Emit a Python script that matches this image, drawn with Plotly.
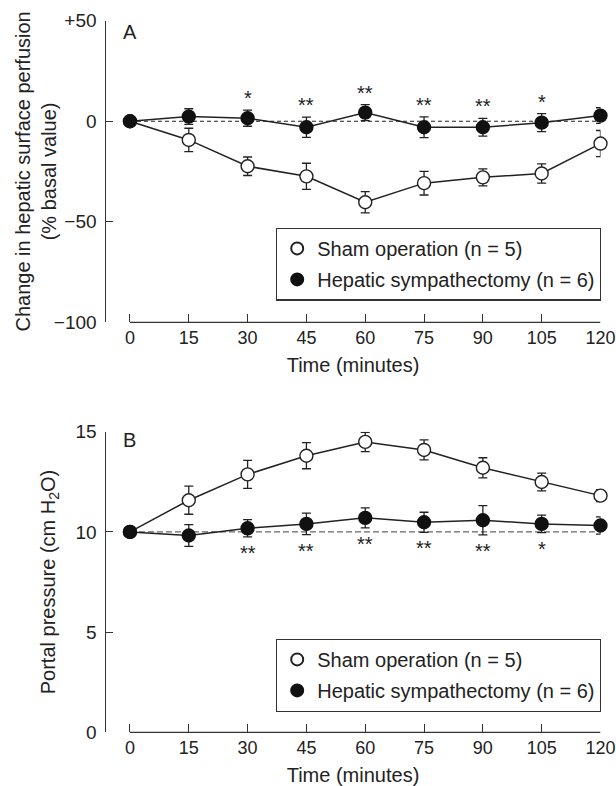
import plotly.graph_objects as go

# ---------------- data ----------------
times = [0, 15, 30, 45, 60, 75, 90, 105, 120]

# Panel A: change in hepatic surface perfusion (% basal value)
sham_A = [0, -9.3, -22.4, -27.4, -40.3, -30.8, -27.9, -26.0, -11.1]
sham_A_err = [0, 5.8, 4.6, 6.5, 5.3, 5.9, 4.2, 4.8, 6.5]
symp_A = [0, 2.3, 1.5, -3.0, 4.3, -3.0, -3.0, -0.7, 2.8]
symp_A_err = [0, 3.9, 4.0, 5.0, 4.0, 5.2, 4.4, 4.5, 3.9]
stars_A = ["", "", "*", "**", "**", "**", "**", "*", ""]
baseline_A = 0

# Panel B: portal pressure (cm H2O)
sham_B = [10, 11.58, 12.87, 13.80, 14.49, 14.09, 13.20, 12.49, 11.81]
sham_B_err = [0, 0.70, 0.70, 0.65, 0.48, 0.50, 0.50, 0.44, 0.30]
symp_B = [10, 9.82, 10.18, 10.40, 10.70, 10.48, 10.58, 10.40, 10.32]
symp_B_err = [0, 0.54, 0.43, 0.54, 0.50, 0.50, 0.73, 0.44, 0.43]
stars_B = ["", "", "**", "**", "**", "**", "**", "*", ""]
baseline_B = 10

yticks_A = [50, 0, -50, -100]
yticktext_A = ["+50", "0", "\u221250", "\u2212100"]
yticks_B = [0, 5, 10, 15]

sham_name = "Sham operation (n = 5)"
symp_name = "Hepatic sympathectomy (n = 6)"

# ---------------- style ----------------
INK = "#222222"
AXC = "#333333"
FONT = "Liberation Sans, Arial, sans-serif"
W, H = 616, 786

fig = go.Figure()


def add_panel(xa, ya, sham, sham_err, symp, symp_err, legend):
    # connecting lines (drawn first, beneath markers)
    for vals in (sham, symp):
        fig.add_trace(go.Scatter(
            x=times, y=vals, mode="lines", showlegend=False, hoverinfo="skip",
            xaxis=xa, yaxis=ya, line=dict(color=INK, width=1.5),
            cliponaxis=False,
        ))
    # markers with error bars (legend entries)
    fig.add_trace(go.Scatter(
        x=times, y=sham, mode="markers", name=sham_name,
        xaxis=xa, yaxis=ya, legend=legend, legendgroup=legend + "sham",
        marker=dict(symbol="circle", size=13, color="white",
                    line=dict(color=INK, width=1.4)),
        error_y=dict(type="data", array=sham_err, visible=True,
                     color=INK, thickness=1.3, width=4.5),
        cliponaxis=False,
    ))
    fig.add_trace(go.Scatter(
        x=times, y=symp, mode="markers", name=symp_name,
        xaxis=xa, yaxis=ya, legend=legend, legendgroup=legend + "symp",
        marker=dict(symbol="circle", size=13, color="#111111",
                    line=dict(color="#111111", width=1.4)),
        error_y=dict(type="data", array=symp_err, visible=True,
                     color=INK, thickness=1.3, width=4.5),
        cliponaxis=False,
    ))


add_panel("x", "y", sham_A, sham_A_err, symp_A, symp_A_err, "legend")
add_panel("x2", "y2", sham_B, sham_B_err, symp_B, symp_B_err, "legend2")

# dashed baselines
fig.add_shape(type="line", xref="x", yref="y", x0=times[0], x1=times[-1],
              y0=baseline_A, y1=baseline_A, layer="below",
              line=dict(color="#222222", width=1.1, dash="4px,3px"))
fig.add_shape(type="line", xref="x2", yref="y2", x0=times[0], x1=times[-1],
              y0=baseline_B, y1=baseline_B, layer="below",
              line=dict(color="#666666", width=1.3, dash="6px,3px"))

# x-axis lines spanning only the time range (offset axis look)
fig.add_shape(type="line", xref="x", yref="y domain", x0=times[0], x1=times[-1],
              y0=0, y1=0, line=dict(color=AXC, width=1.2))
fig.add_shape(type="line", xref="x2", yref="y2 domain", x0=times[0], x1=times[-1],
              y0=0, y1=0, line=dict(color=AXC, width=1.2))

# significance asterisks
for t, s, v, e in zip(times, stars_A, symp_A, symp_A_err):
    if s:
        fig.add_annotation(x=t, y=v + e, xref="x", yref="y", text=s,
                           showarrow=False, yanchor="middle", yshift=12,
                           font=dict(size=20, color=INK, family=FONT))
for t, s, v, e in zip(times, stars_B, symp_B, symp_B_err):
    if s:
        fig.add_annotation(x=t, y=v - e, xref="x2", yref="y2", text=s,
                           showarrow=False, yanchor="middle", yshift=-16,
                           font=dict(size=20, color=INK, family=FONT))

# panel letters
fig.add_annotation(x=times[0], y=0.963, xref="x", yref="y domain", text="A",
                   showarrow=False, xanchor="center", yanchor="middle",
                   font=dict(size=20, color=INK, family=FONT))
fig.add_annotation(x=times[0], y=0.972, xref="x2", yref="y2 domain", text="B",
                   showarrow=False, xanchor="center", yanchor="middle",
                   font=dict(size=20, color=INK, family=FONT))

# two-line y-axis title of panel A
fig.add_annotation(x=35 / W, y=0.5, xref="paper", yref="y domain",
                   text="Change in hepatic surface perfusion<br>(% basal value)",
                   textangle=-90, showarrow=False, xanchor="center", yanchor="middle",
                   font=dict(size=20, color=INK, family=FONT))

xdom = [105.5 / W, 600.5 / W]
common_x = dict(range=[-6.24, 120], tickvals=times, ticks="inside", ticklen=8,
                tickwidth=1.2, tickcolor=AXC, showline=False, showgrid=False,
                zeroline=False, tickfont=dict(size=18, color=INK, family=FONT),
                ticklabelstandoff=3, automargin=False, ticklabeloverflow="allow",
                title=dict(text="Time (minutes)", standoff=10,
                           font=dict(size=20, color=INK, family=FONT)),
                domain=xdom, fixedrange=True)
common_y = dict(ticks="inside", ticklen=7.5, tickwidth=1.2, tickcolor=AXC,
                showline=True, linecolor=AXC, linewidth=1.2, showgrid=False,
                zeroline=False, tickfont=dict(size=19, color=INK, family=FONT),
                ticklabelstandoff=4, automargin=False, ticklabeloverflow="allow",
                fixedrange=True)

legend_common = dict(x=601 / W, xanchor="right", yanchor="middle",
                     bordercolor="#333333", borderwidth=1.2, bgcolor="white",
                     font=dict(size=20, color=INK, family=FONT),
                     traceorder="grouped", tracegroupgap=2, itemsizing="constant")

fig.update_layout(
    width=W, height=H,
    margin=dict(l=0, r=0, t=0, b=0, autoexpand=False),
    paper_bgcolor="white", plot_bgcolor="white",
    font=dict(family=FONT, color=INK, size=19),
    xaxis=dict(anchor="y", **common_x),
    xaxis2=dict(anchor="y2", **common_x),
    yaxis=dict(anchor="x", domain=[1 - 322.3 / H, 1 - 20.7 / H], range=[-100, 50],
               tickvals=yticks_A, ticktext=yticktext_A, **common_y),
    yaxis2=dict(anchor="x2", domain=[1 - 732.3 / H, 1 - 431.7 / H], range=[0, 15],
                tickvals=yticks_B,
                title=dict(text="Portal pressure (cm H<sub>2</sub>O)",
                           standoff=14, font=dict(size=20, color=INK, family=FONT)),
                **common_y),
    legend=dict(y=1 - 264.2 / H, **legend_common),
    legend2=dict(y=1 - 675.2 / H, **legend_common),
    showlegend=True,
)

fig.write_html("out.html",
               config={"displayModeBar": False},
               post_script="document.body.style.margin='0';"
                           "document.body.style.overflow='hidden';")
